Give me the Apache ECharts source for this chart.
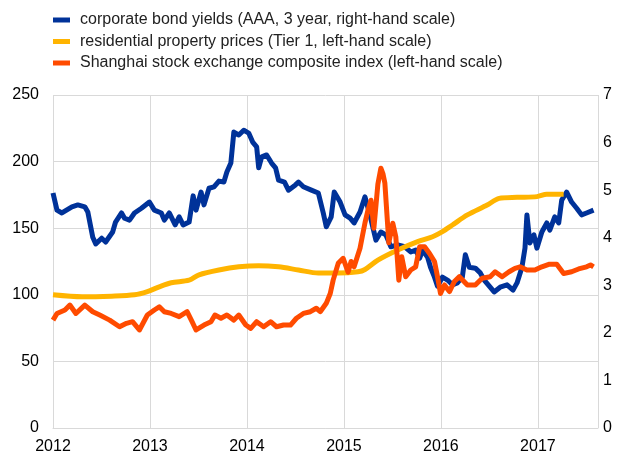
<!DOCTYPE html>
<html><head><meta charset="utf-8">
<script src="https://cdn.jsdelivr.net/npm/echarts@6/dist/echarts.min.js"></script>
<style>html,body{margin:0;padding:0;background:#fff}#c{width:619px;height:455px}</style>
</head><body><div id="c"></div>
<script>
// x positions as decimal years
const bondYears = [2012.000,2012.041,2012.092,2012.195,2012.256,2012.328,2012.359,2012.410,2012.441,2012.502,2012.543,2012.615,2012.645,2012.707,2012.738,2012.789,2012.840,2012.912,2012.994,2013.045,2013.117,2013.148,2013.199,2013.260,2013.301,2013.342,2013.404,2013.445,2013.475,2013.527,2013.557,2013.609,2013.660,2013.711,2013.762,2013.793,2013.834,2013.865,2013.916,2013.967,2014.018,2014.059,2014.100,2014.121,2014.152,2014.203,2014.254,2014.295,2014.326,2014.387,2014.428,2014.500,2014.531,2014.582,2014.664,2014.736,2014.787,2014.818,2014.869,2014.900,2014.961,2015.012,2015.064,2015.105,2015.166,2015.217,2015.268,2015.330,2015.381,2015.432,2015.484,2015.555,2015.627,2015.689,2015.740,2015.781,2015.811,2015.863,2015.893,2015.934,2015.965,2016.016,2016.068,2016.119,2016.170,2016.221,2016.252,2016.293,2016.355,2016.406,2016.447,2016.508,2016.549,2016.611,2016.682,2016.744,2016.785,2016.836,2016.867,2016.887,2016.918,2016.959,2016.990,2017.041,2017.092,2017.123,2017.174,2017.215,2017.246,2017.297,2017.348,2017.400,2017.451,2017.502,2017.574];
const bondValues = [4.94,4.58,4.52,4.65,4.69,4.65,4.54,4.01,3.87,3.99,3.91,4.12,4.33,4.52,4.41,4.37,4.52,4.62,4.75,4.58,4.52,4.37,4.52,4.27,4.44,4.27,4.33,4.88,4.58,4.96,4.69,5.04,5.07,5.19,5.17,5.38,5.57,6.22,6.16,6.26,6.20,6.01,5.91,5.47,5.70,5.74,5.57,5.47,5.21,5.17,5.00,5.11,5.17,5.07,5.00,4.94,4.52,4.23,4.44,4.96,4.75,4.48,4.41,4.31,4.54,4.86,4.48,3.95,4.12,4.06,3.81,3.85,3.81,3.70,3.74,3.57,3.74,3.59,3.38,3.17,2.98,3.17,3.11,3.01,3.05,3.17,3.64,3.38,3.36,3.26,3.11,2.96,2.86,2.96,3.01,2.90,3.05,3.38,3.78,4.48,3.89,4.06,3.78,4.12,4.31,4.16,4.44,4.31,4.79,4.96,4.75,4.62,4.48,4.52,4.58];

const propYears = [2012.000,2012.300,2012.605,2012.840,2012.973,2013.096,2013.219,2013.404,2013.506,2013.711,2013.916,2014.121,2014.326,2014.531,2014.736,2014.941,2015.145,2015.217,2015.350,2015.555,2015.760,2015.914,2016.016,2016.119,2016.273,2016.477,2016.600,2016.785,2016.990,2017.092,2017.266];
const propValues = [100,98.5,99,100,102.4,106,109,111,115,118.6,121,121.9,121,118.6,116.3,116.3,117.3,119,126,133.6,139.9,143.6,147.4,152.4,160,167.4,172.4,173.2,173.7,175.5,175.5];

const stockYears = [2012.000,2012.041,2012.123,2012.174,2012.236,2012.328,2012.410,2012.482,2012.584,2012.686,2012.758,2012.820,2012.891,2012.973,2013.045,2013.096,2013.148,2013.219,2013.301,2013.383,2013.434,2013.475,2013.557,2013.629,2013.670,2013.732,2013.793,2013.865,2013.916,2013.988,2014.039,2014.100,2014.172,2014.244,2014.305,2014.377,2014.449,2014.510,2014.582,2014.654,2014.715,2014.756,2014.818,2014.859,2014.889,2014.941,2014.992,2015.043,2015.074,2015.105,2015.166,2015.217,2015.248,2015.279,2015.309,2015.350,2015.381,2015.402,2015.422,2015.453,2015.463,2015.504,2015.535,2015.566,2015.596,2015.637,2015.689,2015.740,2015.781,2015.832,2015.883,2015.934,2015.965,2015.996,2016.037,2016.088,2016.139,2016.191,2016.273,2016.355,2016.426,2016.508,2016.559,2016.631,2016.703,2016.764,2016.816,2016.887,2016.969,2017.041,2017.113,2017.195,2017.266,2017.348,2017.420,2017.502,2017.543,2017.574];
const stockValues = [81,86,88.6,92.3,86,92.3,87.3,84.8,81,76,78.6,79.8,73.6,84.8,88.6,91,87.3,86,83.6,87.3,79.8,73.6,77.3,79.8,84.8,82.4,84.8,81,84.8,77.3,74.8,79.8,76,79.8,76,77.3,77.3,82.4,86,87.3,89.9,87.3,93.6,101,111,123.6,127.4,117,125,121,135,154,163.6,171,150,183,195,191,184,150,139,153.7,143.6,111,128.6,113.6,118.6,121,136,136,131,125,113.6,101,107.4,102.4,110,113.6,107.4,107.4,112.4,113.6,117.3,113.6,117.3,119.9,121,118.6,118.6,121,122.9,123,116,117.3,119.4,121,122.4,121];

const seriesNames = ['corporate bond yields (AAA, 3 year, right-hand scale)','residential property prices (Tier 1, left-hand scale)','Shanghai stock exchange composite index (left-hand scale)'];
const seriesColors = ['#003299','#FFB400','#FF4B00'];

const zip = (a,b) => a.map((x,i)=>[x,b[i]]);
const chart = echarts.init(document.getElementById('c'), null, {renderer:'canvas'});
const font = 'Liberation Sans, Arial, sans-serif';
const gridColor = '#d9d9d9';
chart.setOption({
  animation:false,
  textStyle:{fontFamily:font},
  legend:{
    orient:'vertical', left:53, top:12, itemGap:5.5, itemWidth:17, itemHeight:5,
    icon:'rect', data:seriesNames, padding:0,
    textStyle:{fontSize:16, color:'#222', fontFamily:font, padding:[0,0,0,5]}
  },
  grid:{left:53, right:21, top:95, bottom:27, containLabel:false},
  xAxis:{
    type:'value', min:2012, max:2017.62, interval:1,
    axisLine:{show:true, lineStyle:{color:gridColor, width:1}},
    axisTick:{show:false},
    splitLine:{show:true, lineStyle:{color:gridColor, width:1}},
    axisLabel:{fontSize:16, color:'#000', margin:11, fontFamily:font,
      formatter:v => Number.isInteger(Math.round(v*1000)/1000) ? String(Math.round(v)) : ''}
  },
  yAxis:[
    {type:'value', min:0, max:250, interval:50, position:'left',
     axisLine:{show:false}, axisTick:{show:false},
     splitLine:{show:true, lineStyle:{color:gridColor, width:1}},
     axisLabel:{fontSize:16, color:'#000', margin:14, fontFamily:font}},
    {type:'value', min:0, max:7, interval:1, position:'right',
     axisLine:{show:false}, axisTick:{show:false}, splitLine:{show:false},
     axisLabel:{fontSize:16, color:'#000', margin:5, fontFamily:font}}
  ],
  series:[
    {name:seriesNames[0], type:'line', yAxisIndex:1, data:zip(bondYears,bondValues), showSymbol:false, symbol:'none', color:seriesColors[0], lineStyle:{width:5, color:seriesColors[0], join:'round'}},
    {name:seriesNames[1], type:'line', yAxisIndex:0, data:zip(propYears,propValues), showSymbol:false, symbol:'none', smooth:0.3, color:seriesColors[1], lineStyle:{width:5, color:seriesColors[1]}},
    {name:seriesNames[2], type:'line', yAxisIndex:0, data:zip(stockYears,stockValues), showSymbol:false, symbol:'none', color:seriesColors[2], lineStyle:{width:5, color:seriesColors[2], join:'round'}}
  ]
});
</script></body></html>
